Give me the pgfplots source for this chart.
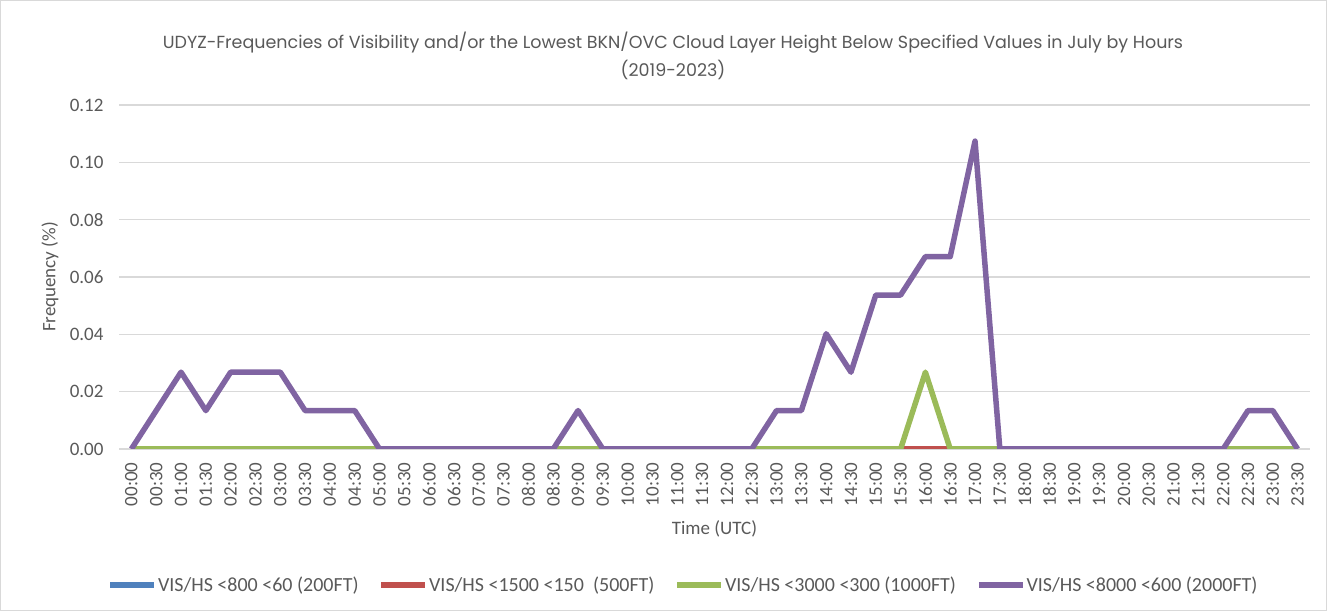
\documentclass[border=0pt]{standalone}
\usepackage{pgfplots}
\pgfplotsset{compat=1.18}
\usepackage{pgfplotstable}
\usepackage{fontspec}
\setmainfont{Carlito}
\newfontfamily\titlefont{Poppins}
\definecolor{txt}{HTML}{595959}
\definecolor{gridc}{HTML}{D9D9D9}
\definecolor{cblue}{HTML}{4F81BD}
\definecolor{cred}{HTML}{C0504D}
\definecolor{cgreen}{HTML}{9BBB59}
\definecolor{cpurple}{HTML}{8064A2}
\pgfplotstableread{
x blue red green purple
0 0 0 0 0
1 0 0 0 0.0134
2 0 0 0 0.0268
3 0 0 0 0.0134
4 0 0 0 0.0268
5 0 0 0 0.0268
6 0 0 0 0.0268
7 0 0 0 0.0134
8 0 0 0 0.0134
9 0 0 0 0.0134
10 0 0 0 0
11 0 0 0 0
12 0 0 0 0
13 0 0 0 0
14 0 0 0 0
15 0 0 0 0
16 0 0 0 0
17 0 0 0 0
18 0 0 0 0.0134
19 0 0 0 0
20 0 0 0 0
21 0 0 0 0
22 0 0 0 0
23 0 0 0 0
24 0 0 0 0
25 0 0 0 0
26 0 0 0 0.0134
27 0 0 0 0.0134
28 0 0 0 0.0402
29 0 0 0 0.0268
30 0 0 0 0.0537
31 0 0 0 0.0537
32 0 0 0.0268 0.0671
33 0 0 0 0.0671
34 0 0 0 0.1074
35 0 0 0 0
36 0 0 0 0
37 0 0 0 0
38 0 0 0 0
39 0 0 0 0
40 0 0 0 0
41 0 0 0 0
42 0 0 0 0
43 0 0 0 0
44 0 0 0 0
45 0 0 0 0.0134
46 0 0 0 0.0134
47 0 0 0 0
}\datatable
\begin{document}
\begin{tikzpicture}
\useasboundingbox (0bp,0bp) rectangle (1327bp,611bp);
\draw[gridc, line width=1bp] (0.5bp,0.5bp) rectangle (1326.5bp,610.5bp);
\node[txt, align=center, font=\titlefont\fontsize{17.5bp}{28bp}\selectfont] at (673bp,555bp)
  {UDYZ-Frequencies of Visibility and/or the Lowest BKN/OVC Cloud Layer Height Below Specified Values in July by Hours\\(2019-2023)};
\begin{axis}[
  at={(119bp,162bp)}, anchor=south west,
  scale only axis, width=1191bp, height=344bp,
  xmin=-0.5, xmax=47.5, ymin=0, ymax=0.12,
  xtick={0,...,47},
  xticklabels={00:00,00:30,01:00,01:30,02:00,02:30,03:00,03:30,04:00,04:30,05:00,05:30,06:00,06:30,07:00,07:30,08:00,08:30,09:00,09:30,10:00,10:30,11:00,11:30,12:00,12:30,13:00,13:30,14:00,14:30,15:00,15:30,16:00,16:30,17:00,17:30,18:00,18:30,19:00,19:30,20:00,20:30,21:00,21:30,22:00,22:30,23:00,23:30},
  ytick={0,0.02,0.04,0.06,0.08,0.10,0.12},
  yticklabel style={/pgf/number format/.cd, fixed, fixed zerofill, precision=2, assume math mode=true},
  ymajorgrids, grid style={gridc, line width=1.5bp},
  axis line style={draw=none},
  major tick length=0pt,
  tick label style={txt, font=\fontsize{19bp}{22bp}\selectfont},
  xticklabel style={rotate=90, anchor=east},
  xticklabel shift=10bp,
  yticklabel shift=12bp,
  xlabel={Time (UTC)}, ylabel={Frequency (\%)},
  label style={txt, font=\fontsize{19bp}{22bp}\selectfont},
  xlabel style={at={(axis description cs:0.5,0)}, anchor=center, yshift=-80bp},
  ylabel style={at={(axis description cs:-0.0579,0.5)}, anchor=center},
  legend columns=4,
  legend style={at={(axis description cs:0.4736,-0.395)}, anchor=center, draw=none, fill=none,
    font=\fontsize{20bp}{22bp}\selectfont, text=txt,
    nodes={inner xsep=1bp},
    /tikz/every even column/.append style={column sep=19bp}},
  legend image code/.code={\draw[#1] (0bp,0bp) -- (44bp,0bp);},
  every axis plot/.append style={line width=5.5bp, line join=round},
]
\addplot[cblue] table[x=x, y=blue] {\datatable};
\addlegendentry{VIS/HS <800 <60 (200FT)}
\addplot[cred] table[x=x, y=red] {\datatable};
\addlegendentry{VIS/HS <1500 <150 \ (500FT)}
\addplot[cgreen] table[x=x, y=green] {\datatable};
\addlegendentry{VIS/HS <3000 <300 (1000FT)}
\addplot[cpurple] table[x=x, y=purple] {\datatable};
\addlegendentry{VIS/HS <8000 <600 (2000FT)}
\end{axis}
\end{tikzpicture}
\end{document}
